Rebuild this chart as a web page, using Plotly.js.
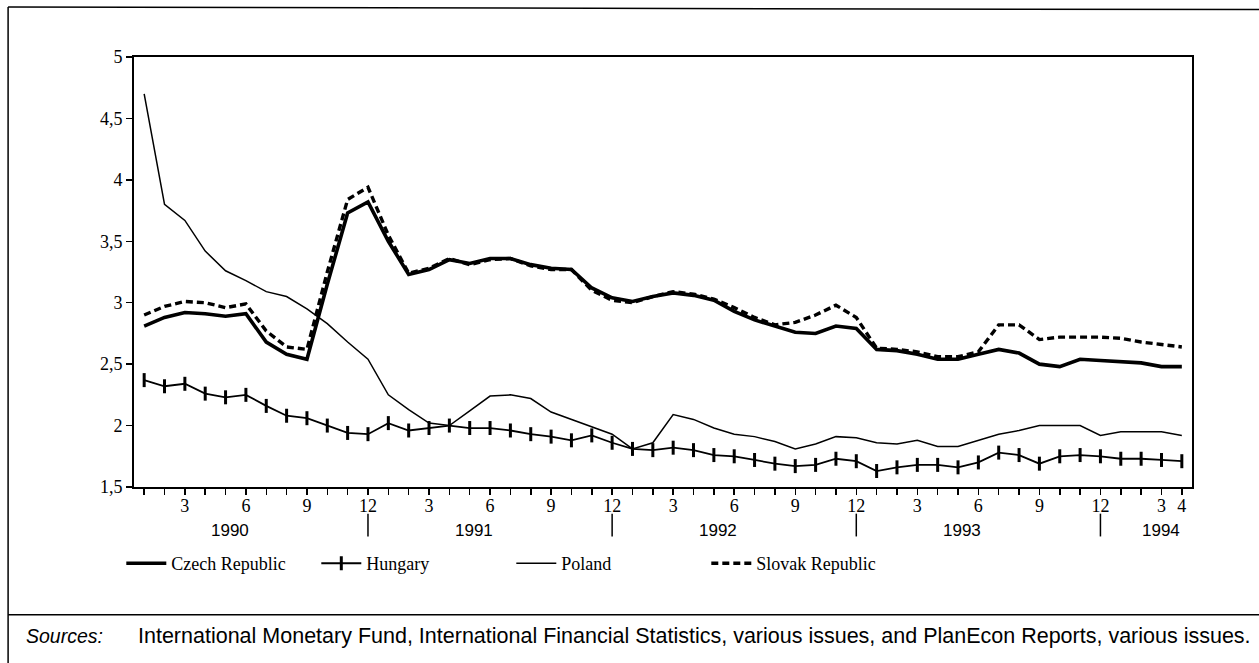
<!DOCTYPE html>
<html>
<head>
<meta charset="utf-8">
<script src="https://cdn.plot.ly/plotly-3.0.1.min.js"></script>
<style>
html,body{margin:0;padding:0;background:#fff;}
#chart{width:1259px;height:663px;}
</style>
</head>
<body>
<div id="chart"></div>
<script>
// Monthly observations, January 1990 to April 1994
const years = [1990, 1991, 1992, 1993, 1994];
const monthsPerYear = [12, 12, 12, 12, 4];

const czech = [2.81, 2.88, 2.92, 2.91, 2.89, 2.91, 2.68, 2.58, 2.54, 3.15, 3.73, 3.82,
               3.50, 3.23, 3.27, 3.35, 3.32, 3.36, 3.36, 3.31, 3.28, 3.27, 3.12, 3.04,
               3.01, 3.05, 3.08, 3.06, 3.02, 2.93, 2.86, 2.81, 2.76, 2.75, 2.81, 2.79,
               2.62, 2.61, 2.58, 2.54, 2.54, 2.58, 2.62, 2.59, 2.50, 2.48, 2.54, 2.53,
               2.52, 2.51, 2.48, 2.48];
const hungary = [2.37, 2.32, 2.34, 2.26, 2.23, 2.25, 2.16, 2.08, 2.06, 2.00, 1.94, 1.93,
                 2.02, 1.96, 1.98, 2.00, 1.98, 1.98, 1.96, 1.93, 1.91, 1.88, 1.92, 1.86,
                 1.81, 1.80, 1.82, 1.80, 1.76, 1.75, 1.72, 1.69, 1.67, 1.68, 1.73, 1.71,
                 1.63, 1.66, 1.68, 1.68, 1.66, 1.70, 1.78, 1.76, 1.69, 1.75, 1.76, 1.75,
                 1.73, 1.73, 1.72, 1.71];
const poland = [4.70, 3.80, 3.67, 3.42, 3.26, 3.18, 3.09, 3.05, 2.95, 2.83, 2.68, 2.54,
                2.25, 2.13, 2.02, 2.00, 2.12, 2.24, 2.25, 2.22, 2.11, 2.05, 1.99, 1.93,
                1.81, 1.86, 2.09, 2.05, 1.98, 1.93, 1.91, 1.87, 1.81, 1.85, 1.91, 1.90,
                1.86, 1.85, 1.88, 1.83, 1.83, 1.88, 1.93, 1.96, 2.00, 2.00, 2.00, 1.92,
                1.95, 1.95, 1.95, 1.92];
const slovak = [2.90, 2.97, 3.01, 3.00, 2.96, 2.99, 2.77, 2.64, 2.62, 3.25, 3.84, 3.94,
                3.55, 3.24, 3.28, 3.36, 3.31, 3.35, 3.36, 3.30, 3.27, 3.27, 3.10, 3.02,
                3.00, 3.05, 3.09, 3.07, 3.03, 2.96, 2.88, 2.82, 2.84, 2.90, 2.98, 2.88,
                2.63, 2.62, 2.60, 2.56, 2.56, 2.60, 2.82, 2.82, 2.70, 2.72, 2.72, 2.72,
                2.71, 2.68, 2.66, 2.64];

const seriesNames = ["Czech Republic", "Hungary", "Poland", "Slovak Republic"];
const shownMonths = [3, 6, 9, 12];
const sourceLabel = "Sources:";
const sourceNote = "International Monetary Fund, International Financial Statistics, various issues, and PlanEcon Reports, various issues.";

// build month index / labels
const idx = [], monthNum = [], yearOf = [];
years.forEach((y, k) => {
  for (let m = 1; m <= monthsPerYear[k]; m++) { idx.push(idx.length); monthNum.push(m); yearOf.push(y); }
});
const lastI = idx.length - 1;
const tickText = monthNum.map((m, i) => (shownMonths.includes(m) || i === lastI) ? String(m) : "");

const serif = "Liberation Serif, Times New Roman, serif";
const sans = "Liberation Sans, Arial, sans-serif";

const traces = [
  {x: idx, y: czech, name: seriesNames[0], mode: "lines",
   line: {color: "#000", width: 3.6}},
  {x: idx, y: hungary, name: seriesNames[1], mode: "lines+markers",
   line: {color: "#000", width: 1.8},
   marker: {symbol: "line-ns", size: 10, color: "#000", line: {color: "#000", width: 3}}},
  {x: idx, y: poland, name: seriesNames[2], mode: "lines",
   line: {color: "#000", width: 1.5}},
  {x: idx, y: slovak, name: seriesNames[3], mode: "lines",
   line: {color: "#000", width: 3.4, dash: "7px,4px"}}
];

// year labels and separators (under December ticks)
const annotations = [];
const shapes = [];
let start = 0;
years.forEach((y, k) => {
  const n = monthsPerYear[k];
  const center = n === 12 ? start + 4.2 : start + n / 2;
  annotations.push({x: center, y: -0.1, xref: "x", yref: "paper", text: String(y),
    showarrow: false, xanchor: "center", yanchor: "middle", font: {family: sans, size: 17, color: "#000"}});
  start += n;
});
idx.forEach((i) => {
  if (monthNum[i] === 12) {
    shapes.push({type: "line", xref: "x", yref: "paper", x0: i, x1: i, y0: -0.062, y1: -0.115,
      line: {color: "#000", width: 1.5}});
  }
});

// outer frame and separator
shapes.push({type: "line", xref: "paper", yref: "paper", x0: -0.119, x1: 1.1, y0: 1.116, y1: 1.11, line: {color: "#000", width: 1.5}});
shapes.push({type: "line", xref: "paper", yref: "paper", x0: -0.119, x1: -0.119, y0: 1.116, y1: -0.45, line: {color: "#000", width: 1.5}});
shapes.push({type: "line", xref: "paper", yref: "paper", x0: -0.119, x1: 1.1, y0: -0.297, y1: -0.297, line: {color: "#000", width: 1.5}});

annotations.push({x: -0.104, y: -0.3465, xref: "paper", yref: "paper", xanchor: "left", yanchor: "middle",
  showarrow: false, text: "<i>" + sourceLabel + "</i>", font: {family: sans, size: 19.5, color: "#000"}});
annotations.push({x: 0.002, y: -0.3465, xref: "paper", yref: "paper", xanchor: "left", yanchor: "middle",
  showarrow: false, text: sourceNote, font: {family: sans, size: 21.5, color: "#000"}});

const layout = {
  width: 1259, height: 663,
  margin: {l: 134, r: 67, t: 57, b: 176},
  paper_bgcolor: "#fff", plot_bgcolor: "#fff",
  separators: ",.",
  showlegend: true,
  legend: {orientation: "h", x: -0.012, xanchor: "left", y: -0.178, yanchor: "middle",
    font: {family: serif, size: 18, color: "#000"}, entrywidth: 140, entrywidthmode: "pixels",
    itemwidth: 40, bgcolor: "rgba(0,0,0,0)", tracegroupgap: 0},
  xaxis: {range: [-0.5, lastI + 0.5], tickmode: "array", tickvals: idx, ticktext: tickText,
    ticks: "outside", ticklen: 6, tickwidth: 1.5, tickcolor: "#000", ticklabelstandoff: -5,
    showline: true, linecolor: "#000", linewidth: 2, mirror: true, showgrid: false, zeroline: false,
    tickfont: {family: serif, size: 18, color: "#000"}, tickangle: 0},
  yaxis: {range: [1.5, 5], tickmode: "linear", tick0: 1.5, dtick: 0.5,
    ticks: "outside", ticklen: 6, tickwidth: 1.5, tickcolor: "#000",
    showline: true, linecolor: "#000", linewidth: 2, mirror: true, showgrid: false, zeroline: false,
    tickfont: {family: serif, size: 18, color: "#000"}},
  annotations: annotations,
  shapes: shapes
};

Plotly.newPlot("chart", traces, layout, {displayModeBar: false, staticPlot: true});
</script>
</body>
</html>
